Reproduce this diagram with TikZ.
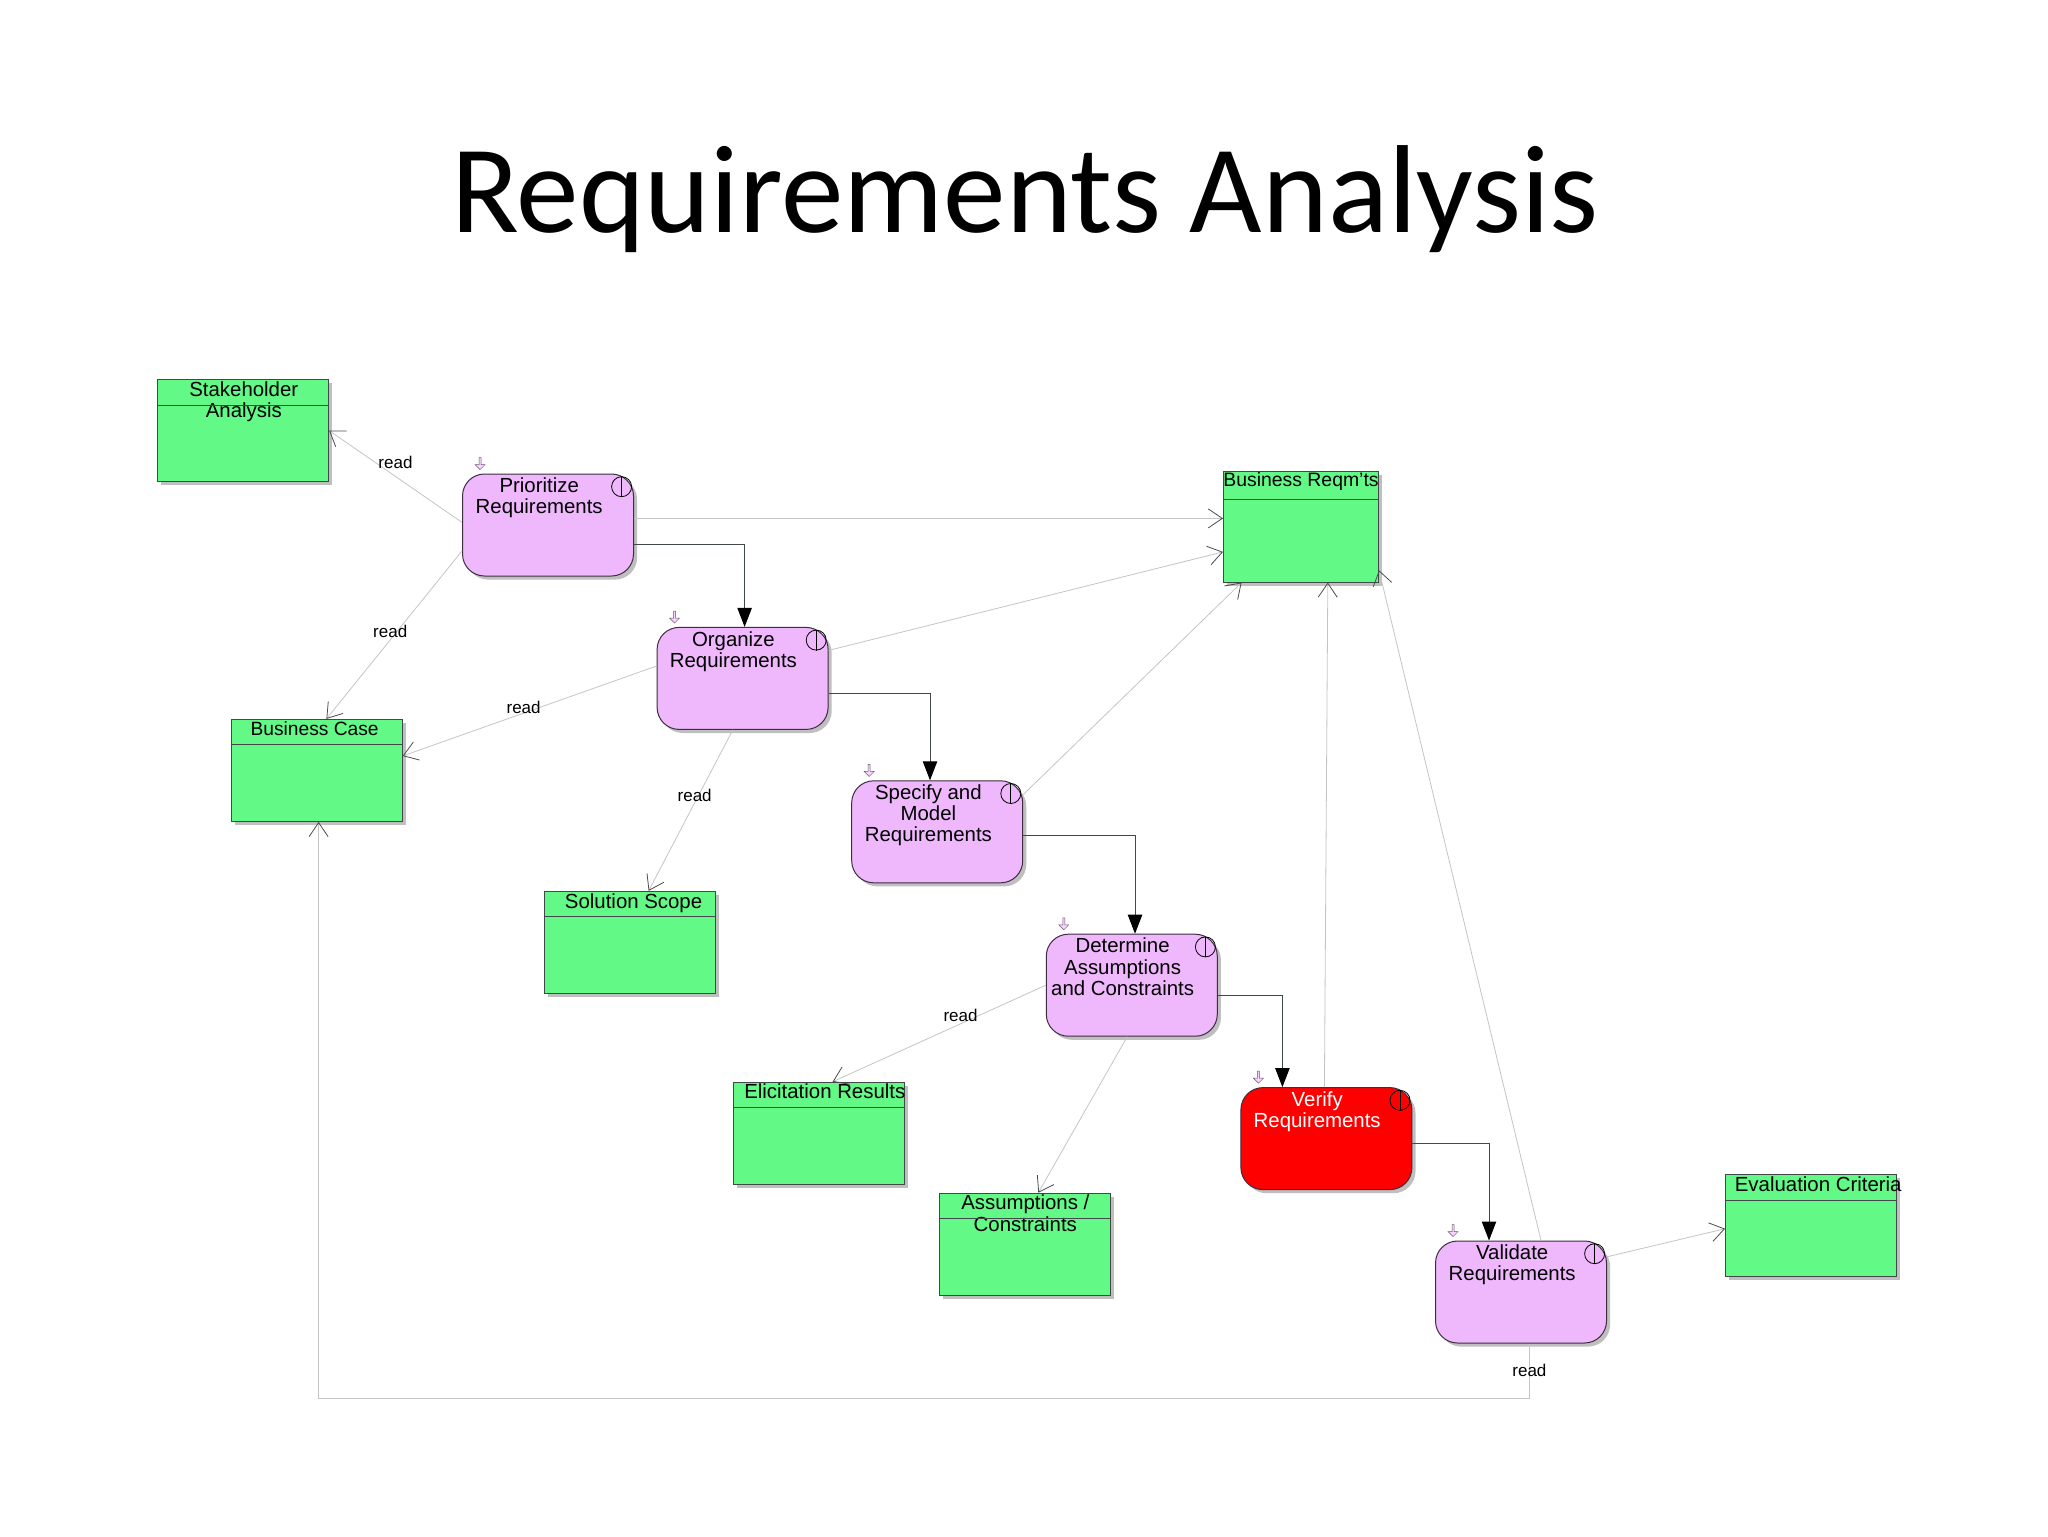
\documentclass[tikz,border=0pt]{standalone}
\usepackage{fontspec}
\setmainfont{Liberation Sans}
\newfontfamily\titlefont{Carlito}
\usepackage{xcolor}
\usetikzlibrary{arrows.meta,positioning,shadows,shapes.arrows}
\definecolor{storegreen}{HTML}{62F986}
\definecolor{actionpink}{HTML}{F0B8FC}
\definecolor{activered}{HTML}{FF0000}
\definecolor{edgeline}{HTML}{404848}
\definecolor{readline}{HTML}{C4C4C4}
\tikzset{
  boxshadow/.style={drop shadow={shadow xshift=1.8pt, shadow yshift=-1.8pt, fill=black!25, opacity=1}},
  boxtext/.style={font=\fontsize{10.2}{10.6}\selectfont, align=center, inner sep=0pt, anchor=north},
  store/.style={
    draw=edgeline, line width=0.5pt, fill=storegreen, boxshadow,
    minimum width=85.5pt, minimum height=51pt, inner sep=0pt
  },
  action/.style={
    draw=black!75!actionpink, line width=0.5pt, fill=actionpink, rounded corners=11pt, boxshadow,
    minimum width=85.5pt, minimum height=51pt, inner sep=0pt
  },
  hotaction/.style={action, fill=activered},
  actionmark/.style={draw=black, line width=0.4pt, circle, inner sep=0pt, minimum size=10pt},
  startmark/.style={draw=black!55!actionpink, line width=0.25pt, fill=actionpink!60, single arrow, shape border rotate=270,
    inner sep=0pt, minimum width=5pt, minimum height=6pt, single arrow head extend=0.5pt},
  flow/.style={-{Triangle[length=9.5pt,width=7.2pt,color=black]}, draw=edgeline, line width=0.5pt},
  readflow/.style={-{Straight Barb[length=7pt,width=9.5pt,color=black!70]}, draw=readline, line width=0.4pt},
  readlabel/.style={font=\fontsize{8.5}{10}\selectfont, inner sep=0pt}
}
\begin{document}
\begin{tikzpicture}[x=0.5pt,y=-0.5pt]
  \useasboundingbox (0,0) rectangle (2048,1536);
  \node[font=\titlefont\fontsize{62.6}{70}\selectfont, anchor=base, inner sep=0pt] (title) at (1025,232) {Requirements Analysis};

  \node[action, label={[boxtext, xshift=-4.4pt, yshift=-2pt]north:Prioritize\\Requirements}] (prio) at (548,525) {};
  \node[action, below right=25.2pt and 11.3pt of prio, label={[boxtext, xshift=-4.6pt, yshift=-2pt]north:Organize\\Requirements}] (org) {};
  \node[action, below right=25.2pt and 11.3pt of org, label={[boxtext, xshift=-4.4pt, yshift=-2pt]north:Specify and\\Model\\Requirements}] (spec) {};
  \node[action, below right=25.2pt and 11.3pt of spec, label={[boxtext, xshift=-4.6pt, yshift=-2pt]north:Determine\\Assumptions\\and Constraints}] (det) {};
  \node[hotaction, below right=25.2pt and 11.3pt of det, label={[boxtext, text=white, xshift=-4.6pt, yshift=-2pt]north:Verify\\Requirements}] (ver) {};
  \node[action, below right=25.2pt and 11.3pt of ver, label={[boxtext, xshift=-4.4pt, yshift=-2pt]north:Validate\\Requirements}] (val) {};

  \node[store, left=66.5pt of prio, yshift=47.25pt, label={[boxtext, xshift=0.4pt, yshift=-1pt]north:Stakeholder\\Analysis}] (stake) {};
  \node[store, left=127pt of org, yshift=-46pt, label={[boxtext, font=\fontsize{9.6}{10.6}\selectfont, xshift=-1pt, yshift=-1pt]north:Business Case}] (case) {};
  \node[store, below=80.5pt of org, xshift=-56.5pt, label={[boxtext, xshift=2pt, yshift=-1pt]north:Solution Scope}] (scope) {};
  \node[store, below=22.5pt of det, xshift=-156.5pt, label={[boxtext, xshift=3pt, yshift=-1pt]north:Elicitation Results}] (elic) {};
  \node[store, below=78pt of det, xshift=-53.25pt, label={[boxtext, yshift=-1pt]north:Assumptions /\\Constraints}] (assume) {};
  \node[store, right=59pt of val, yshift=33.25pt, label={[boxtext, xshift=3.6pt, yshift=-1pt]north:Evaluation Criteria}] (crit) {};
  \node[store, right=294.5pt of prio, yshift=-0.75pt, minimum width=77.5pt, minimum height=55.5pt, label={[boxtext, font=\fontsize{9.7}{10.6}\selectfont, yshift=-1pt]north:Business Reqm'ts}] (reqm) {};

  \foreach \b in {stake,case,scope,elic,assume,crit}
    \draw[edgeline, line width=0.5pt] ([yshift=-13pt]\b.north west) -- ([yshift=-13pt]\b.north east);
  \draw[edgeline, line width=0.5pt] ([yshift=-14.4pt]reqm.north west) -- ([yshift=-14.4pt]reqm.north east);

  \foreach \a in {prio,org,spec,det,ver,val} {
    \node[actionmark] (\a mark) at ([xshift=-6.2pt,yshift=-6.6pt]\a.north east) {};
    \draw[black, line width=0.4pt] (\a mark.north) -- (\a mark.south);
    \node[startmark] (\a start) at ([xshift=9pt,yshift=5.2pt]\a.north west) {};
  }

  \draw[flow] ([yshift=-9.8pt]prio.east) -| ([xshift=1pt]org.north);
  \draw[flow] ([yshift=-7.5pt]org.east) -| ([xshift=-3.6pt]spec.north);
  \draw[flow] ([yshift=-1.6pt]spec.east) -| ([xshift=1.6pt]det.north);
  \draw[flow] ([yshift=-4.9pt]det.east) -| ([xshift=-22pt]ver.north);
  \draw[flow] ([yshift=-2.3pt]ver.east) -| ([xshift=-16pt]val.north);

  \draw[readflow] ([yshift=1.3pt]prio.west) -- node[readlabel, yshift=7pt] (readstake) {read} (stake.east);
  \draw[readflow] ([yshift=-13pt]prio.west) -- node[readlabel, xshift=-2pt, yshift=2pt] (readcase) {read} ([xshift=4.9pt]case.north);
  \draw[readflow] ([yshift=3.3pt]prio.east) -- ([yshift=3.3pt]prio.east -| reqm.west);
  \draw[readflow] ([yshift=14pt]org.east) -- ([yshift=-12.7pt]reqm.west);
  \draw[readflow] ([yshift=6.2pt]org.west) -- node[readlabel, xshift=-3pt, yshift=1.6pt] (readorg) {read} ([yshift=7.2pt]case.east);
  \draw[readflow] ([xshift=-4.9pt]org.south) -- node[readlabel, pos=0.41, xshift=-1.8pt] (readscope) {read} ([xshift=9.5pt]scope.north);
  \draw[readflow] ([yshift=18.6pt]spec.east) -- ([xshift=-29.7pt]reqm.south);
  \draw[readflow] (det.west) -- node[readlabel, pos=0.4, yshift=4pt] (readelic) {read} ([xshift=6.9pt]elic.north);
  \draw[readflow] ([xshift=-2.3pt]det.south) -- ([xshift=6.5pt]assume.north);
  \draw[readflow] ([xshift=-1pt]ver.north) -- ([xshift=13.4pt]reqm.south);
  \draw[readflow] ([xshift=10pt]val.north) -- ([yshift=-21.9pt]reqm.east);
  \draw[readflow] ([yshift=17.6pt]val.east) -- ([yshift=-1.6pt]crit.west);
  \draw[readflow] ([xshift=4.2pt]val.south) -- node[readlabel] (readval) {read} ++(0,-27.4pt) -| ([xshift=1pt]case.south);
\end{tikzpicture}
\end{document}
